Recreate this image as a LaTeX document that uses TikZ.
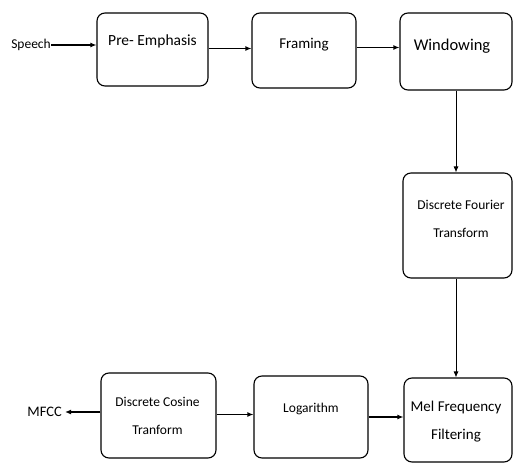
\documentclass[tikz,border=0pt]{standalone}
\usepackage{fontspec}
\setmainfont{Carlito}
\usetikzlibrary{arrows.meta,calc}
\begin{document}
\begin{tikzpicture}[x=1pt,y=-1pt,
  blk/.style={draw, line width=1.1pt, rounded corners=8pt, inner sep=0pt},
  txt/.style={font=\fontsize{13}{28}\selectfont, align=center, inner sep=0pt},
  fs/.style={font=\fontsize{#1}{28}\selectfont},
  arr/.style={line width=1.3pt, -{Latex[length=6pt,width=5pt]}},
  varr/.style={line width=0.9pt, -{Latex[length=6pt,width=5pt]}}]
\useasboundingbox (0,0) rectangle (514,463);
% boxes
\node[blk, minimum width=111pt, minimum height=73pt] (pre)  at (152.5,49.5) {};
\node[blk, minimum width=104pt, minimum height=75pt] (fram) at (304,50.5) {};
\node[blk, minimum width=112pt, minimum height=77pt] (win)  at (456,51.5) {};
\node[blk, minimum width=109pt, minimum height=105pt] (dft) at (457.5,225.5) {};
\node[blk, minimum width=108pt, minimum height=84pt] (mel)  at (458,420) {};
\node[blk, minimum width=114pt, minimum height=82pt] (log)  at (311,417) {};
\node[blk, minimum width=115pt, minimum height=85pt] (dct)  at (158.5,415.5) {};
% texts
\node[txt, fs=15.5] (pret)  at (152.5,41) {Pre- Emphasis};
\node[txt, fs=15] (framt) at (304,45) {Framing};
\node[txt, fs=16.5] (wint)  at (452,46) {Windowing};
\node[txt, fs=13.5] (dftt)  at (461,219) {Discrete Fourier\\Transform};
\node[txt, fs=15] (melt)  at (456,422) {Mel Frequency\\Filtering};
\node[txt, fs=13.5] (logt)  at (311,409) {Logarithm};
\node[txt, fs=13.5] (dctt)  at (157.5,416) {Discrete Cosine\\Tranform};
\node[txt, fs=13.5, anchor=east] (speech) at (51,45) {Speech};
\node[txt, fs=14.5, anchor=east] (mfcc) at (62,412) {MFCC};
% connectors
\draw[arr] (speech.east) -- (speech.east -| pre.west);
\draw[arr] ([yshift=1pt]pre.east) -- ([yshift=1pt]pre.east -| fram.west);
\draw[arr] ([yshift=3pt]fram.east) -- ([yshift=3pt]fram.east -| win.west);
\draw[varr] (win.south) -- (win.south |- dft.north);
\draw[varr] (win.south |- dft.south) -- (win.south |- mel.north);
\draw[arr] (dct.west |- mfcc.east) -- ([xshift=3pt]mfcc.east);
\draw[arr] ([yshift=1pt]dct.east) -- ([yshift=1pt]dct.east -| log.west);
\draw[arr] (log.east) -- (log.east -| mel.west);
\end{tikzpicture}
\end{document}
